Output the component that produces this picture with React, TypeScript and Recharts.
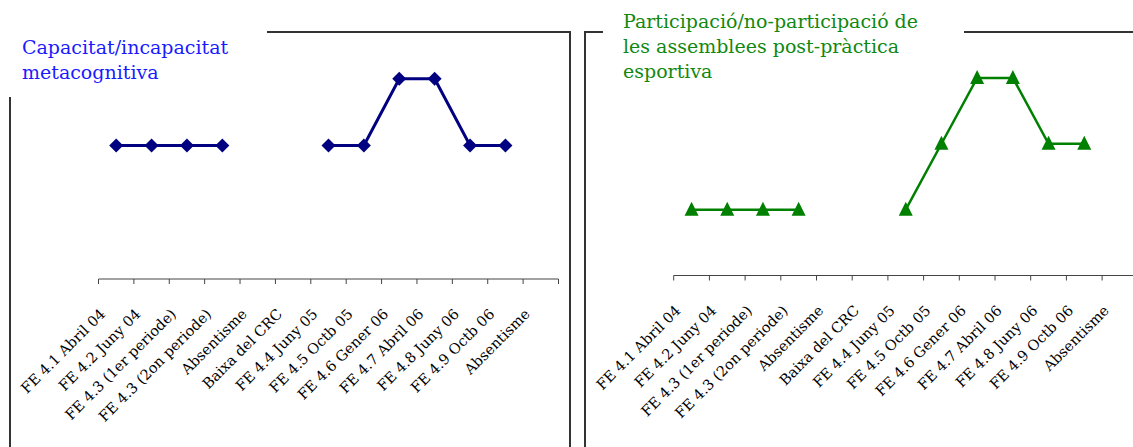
import { LineChart, Line, XAxis, YAxis } from 'recharts';

const categories = [
  'FE 4.1 Abril 04', 'FE 4.2 Juny 04', 'FE 4.3 (1er periode)', 'FE 4.3 (2on periode)',
  'Absentisme', 'Baixa del CRC', 'FE 4.4 Juny 05', 'FE 4.5 Octb 05', 'FE 4.6 Gener 06',
  'FE 4.7 Abril 06', 'FE 4.8 Juny 06', 'FE 4.9 Octb 06', 'Absentisme',
];
const metacognitiva = [2, 2, 2, 2, null, null, 2, 2, 3, 3, 2, 2, null];
const participacio = [1, 1, 1, 1, null, null, 1, 2, 3, 3, 2, 2, null];

const leftData = categories.map((c, i) => ({ cat: c, v: metacognitiva[i] }));
const rightData = categories.map((c, i) => ({ cat: c, v: participacio[i] }));

const serif = '"DejaVu Serif", serif';

function makeTick(band: number) {
  return (props: any) => {
    const { x, y, payload, index } = props;
    const ax = x - 10, ay = y + 36;
    return (
      <g>
        <line x1={x - band / 2} x2={x - band / 2} y1={y} y2={y + 5} stroke="#444" />
        {index === categories.length - 1 && (
          <line x1={x + band / 2} x2={x + band / 2} y1={y} y2={y + 5} stroke="#444" />
        )}
        <text x={ax} y={ay} textAnchor="end" transform={`rotate(-45, ${ax}, ${ay})`}
          fontFamily={serif} fontSize={14.5} fill="#000">{payload.value}</text>
      </g>
    );
  };
}

const Diamond = (p: any) => {
  const { cx, cy } = p;
  if (cy == null || isNaN(cy)) return null;
  return <polygon points={`${cx},${cy - 7} ${cx + 7},${cy} ${cx},${cy + 7} ${cx - 7},${cy}`} fill="#000080" />;
};
const Triangle = (p: any) => {
  const { cx, cy } = p;
  if (cy == null || isNaN(cy)) return null;
  return <polygon points={`${cx},${cy - 8} ${cx + 7},${cy + 6} ${cx - 7},${cy + 6}`} fill="#008000" />;
};

export default function App() {
  const leftBand = (558.5 - 98.5) / 13;
  const rightBand = 35.7;
  return (
    <div style={{ position: 'absolute', left: 0, top: 0, width: 1133, height: 447, overflow: 'hidden', background: '#fff' }}>
      {/* left panel frame */}
      <div style={{ position: 'absolute', left: 9, top: 31, width: 558, height: 440, border: '2px solid #333' }} />
      <div style={{ position: 'absolute', left: 0, top: 0 }}>
        <LineChart width={570} height={447} data={leftData} margin={{ top: 12, right: 11.5, left: 98.5, bottom: 0 }}>
          <XAxis dataKey="cat" interval={0} height={168} tickSize={0} tickMargin={0} tickLine={false}
            padding={{ left: leftBand / 2, right: leftBand / 2 }}
            axisLine={{ stroke: '#444' }} tick={makeTick(leftBand)} />
          <YAxis hide type="number" domain={[0, 4]} />
          <Line dataKey="v" stroke="#000080" strokeWidth={3} dot={<Diamond />} activeDot={false}
            connectNulls={false} isAnimationActive={false} />
        </LineChart>
      </div>
      <div style={{ position: 'absolute', left: 0, top: 0, width: 267, height: 97, background: '#fff' }}>
        <div style={{ position: 'absolute', left: 22, top: 35, fontFamily: serif, fontSize: 19, lineHeight: '25px', color: '#1a1aff' }}>
          Capacitat/incapacitat<br />metacognitiva
        </div>
      </div>

      {/* right panel frame */}
      <div style={{ position: 'absolute', left: 584, top: 31, width: 600, height: 440, border: '2px solid #333' }} />
      <div style={{ position: 'absolute', left: 585, top: 0 }}>
        <LineChart width={600} height={447} data={rightData} margin={{ top: 12, right: 47.2, left: 88.7, bottom: 0 }}>
          <XAxis dataKey="cat" interval={0} height={171.5} tickSize={0} tickMargin={0} tickLine={false}
            padding={{ left: rightBand / 2, right: rightBand / 2 }}
            axisLine={{ stroke: '#444' }} tick={makeTick(rightBand)} />
          <YAxis hide type="number" domain={[0, 4]} />
          <Line dataKey="v" stroke="#008000" strokeWidth={2.5} dot={<Triangle />} activeDot={false}
            connectNulls={false} isAnimationActive={false} />
        </LineChart>
      </div>
      <div style={{ position: 'absolute', left: 603, top: 0, width: 361, height: 90, background: '#fff' }}>
        <div style={{ position: 'absolute', left: 20, top: 9, fontFamily: serif, fontSize: 19, lineHeight: '25px', color: '#118811' }}>
          Participació/no-participació de<br />les assemblees post-pràctica<br />esportiva
        </div>
      </div>
    </div>
  );
}
